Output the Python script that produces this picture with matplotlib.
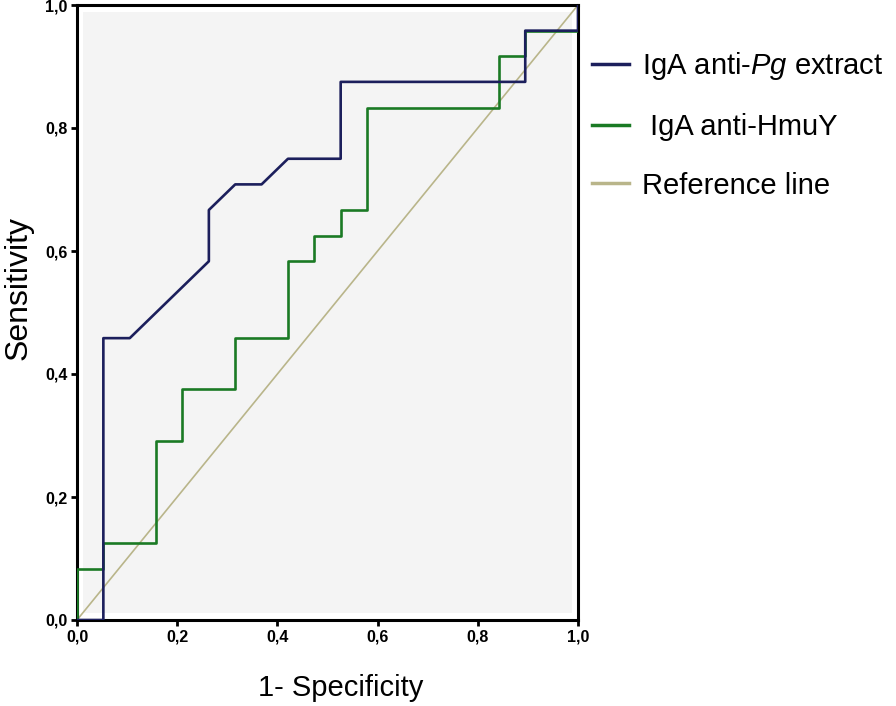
import matplotlib
matplotlib.use("Agg")
import matplotlib.pyplot as plt
from matplotlib.patches import Rectangle

plt.rcParams['font.family'] = ['Liberation Sans', 'DejaVu Sans']
plt.rcParams['mathtext.fontset'] = 'custom'
plt.rcParams['mathtext.it'] = 'Liberation Sans:italic'
plt.rcParams['mathtext.rm'] = 'Liberation Sans'

# ROC curve for IgA anti-Pg extract (1-specificity, sensitivity)
pg_fpr = [0.0, 0.0526, 0.0526, 0.1053, 0.2632, 0.2632, 0.3158, 0.3684, 0.4211,
          0.5263, 0.5263, 0.8947, 0.8947, 1.0, 1.0]
pg_tpr = [0.0, 0.0, 0.4583, 0.4583, 0.5833, 0.6667, 0.7083, 0.7083, 0.75,
          0.75, 0.875, 0.875, 0.9583, 0.9583, 1.0]

# ROC curve for IgA anti-HmuY
hmuy_fpr = [0.0, 0.0, 0.0526, 0.0526, 0.1579, 0.1579, 0.2105, 0.2105, 0.3158,
            0.3158, 0.4211, 0.4211, 0.4737, 0.4737, 0.5263, 0.5263, 0.5789,
            0.5789, 0.8421, 0.8421, 0.8947, 0.8947, 1.0, 1.0]
hmuy_tpr = [0.0, 0.0833, 0.0833, 0.125, 0.125, 0.2917, 0.2917, 0.375, 0.375,
            0.4583, 0.4583, 0.5833, 0.5833, 0.625, 0.625, 0.6667, 0.6667,
            0.8333, 0.8333, 0.9167, 0.9167, 0.9583, 0.9583, 1.0]

ref_x = [0.0, 1.0]
ref_y = [0.0, 1.0]

tick_vals = [0.0, 0.2, 0.4, 0.6, 0.8, 1.0]
tick_labels = ['0,0', '0,2', '0,4', '0,6', '0,8', '1,0']

labels = ['IgA anti-$\\mathit{Pg}$ extract', ' IgA anti-HmuY', 'Reference line']
colors = ['#1c1f5c', '#1a7a24', '#b9b58a']

fig = plt.figure(figsize=(8.96, 7.06), dpi=100)
ax = fig.add_axes([77/896, 86/706, 501/896, 615/706])
ax.set_facecolor('white')
ax.add_patch(Rectangle((0.011, 0.011), 0.978, 0.978, transform=ax.transAxes,
                       facecolor='#f4f4f4', edgecolor='none', zorder=0))

l1, = ax.plot(pg_fpr, pg_tpr, color=colors[0], lw=1.9, zorder=4)
l2, = ax.plot(hmuy_fpr, hmuy_tpr, color=colors[1], lw=1.9, zorder=3)
l3, = ax.plot(ref_x, ref_y, color=colors[2], lw=1.2, zorder=2)

ax.set_xlim(0, 1)
ax.set_ylim(0, 1)
ax.set_xticks(tick_vals)
ax.set_xticklabels(tick_labels)
ax.set_yticks(tick_vals)
ax.set_yticklabels(tick_labels)
ax.tick_params(direction='out', length=4, width=2, labelsize=11.5, pad=3)
for lab in ax.get_xticklabels() + ax.get_yticklabels():
    lab.set_fontweight('bold')
for s in ax.spines.values():
    s.set_linewidth(2.2)
    s.set_color('black')

fig.text(341/896, 1 - 688/706, '1- Specificity', fontsize=21,
         ha='center', va='center')
fig.text(19/896, 1 - 288/706, 'Sensitivity', fontsize=23, rotation=90,
         ha='center', va='center')

leg = fig.legend([l1, l2, l3], labels, loc='upper left',
                 bbox_to_anchor=(569/896, 1 - 27/706), frameon=False,
                 fontsize=21, handlelength=1.27, handletextpad=0.42,
                 labelspacing=1.05, borderpad=0.3)
for h in leg.get_lines():
    h.set_linewidth(2.5)

fig.savefig('out.png', dpi=100, facecolor='white')
